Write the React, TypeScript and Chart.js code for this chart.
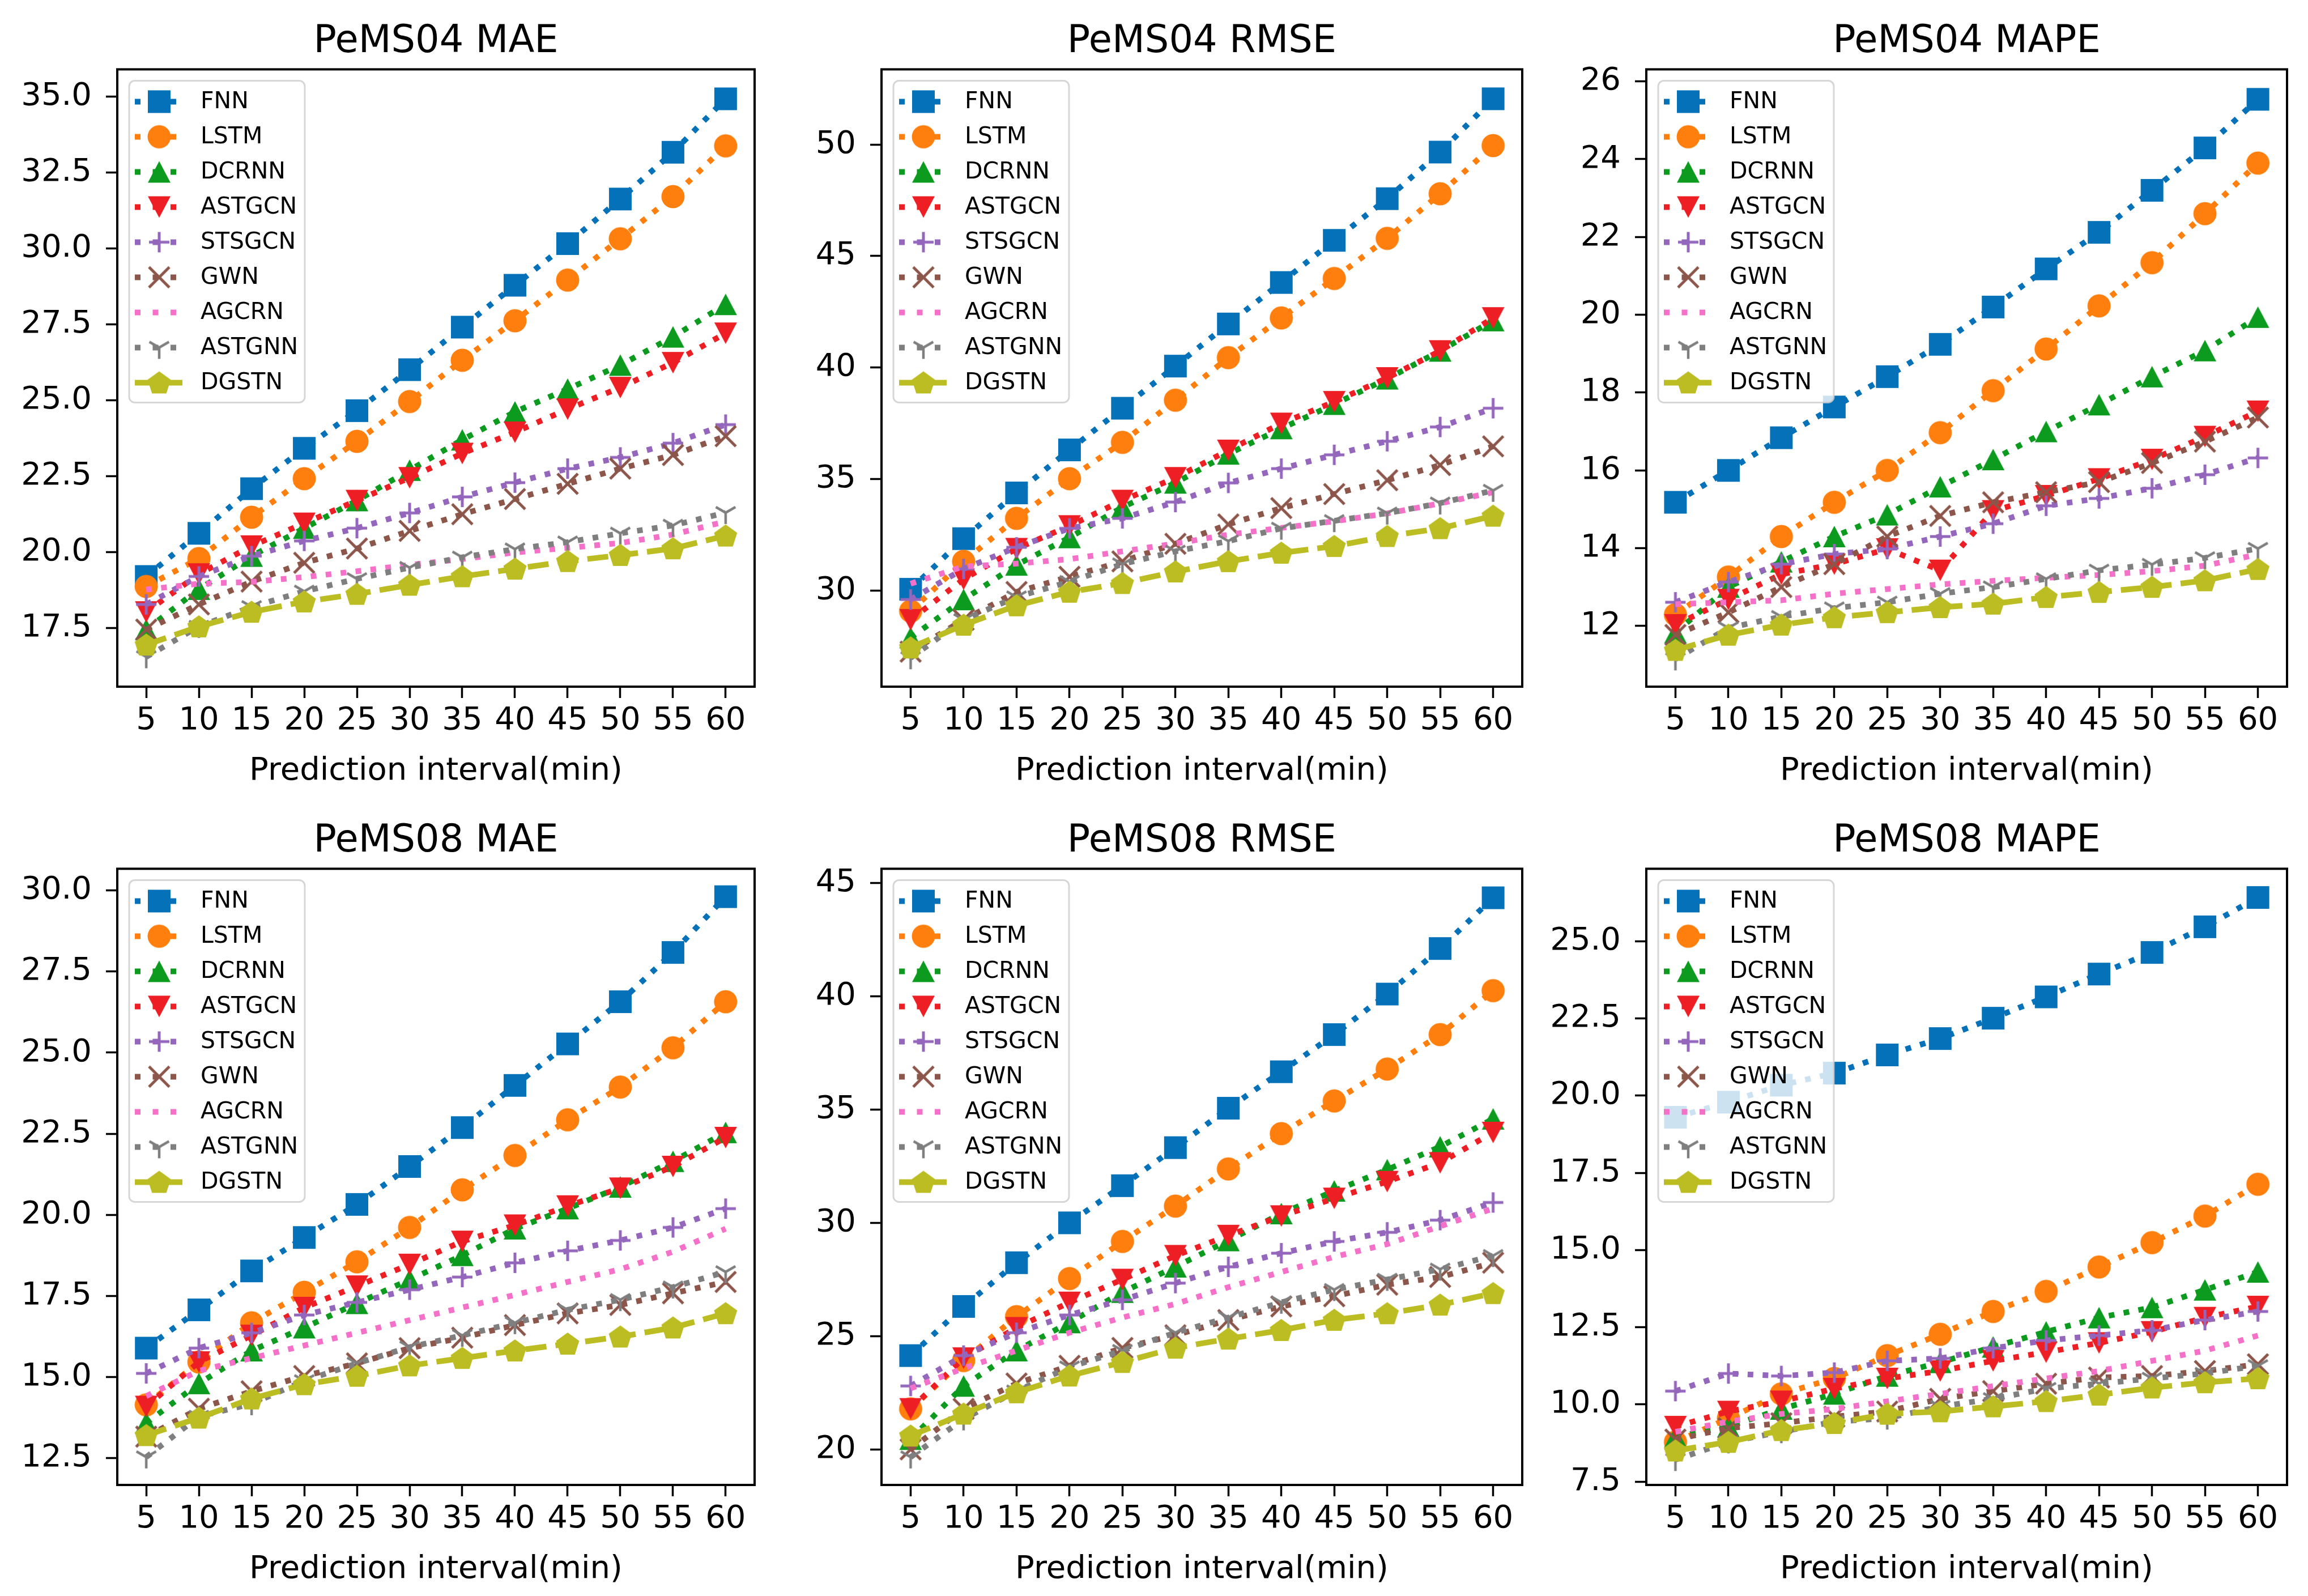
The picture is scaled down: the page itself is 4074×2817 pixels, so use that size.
import { useEffect, useRef } from "react"
import {
  Chart,
  type ChartConfiguration,
  type Plugin,
  LineController,
  LineElement,
  PointElement,
  LinearScale,
  Title,
} from "chart.js"

Chart.register(LineController, LineElement, PointElement, LinearScale, Title)
Chart.defaults.font.family = "'DejaVu Sans', sans-serif"
Chart.defaults.color = "#000"

// ---- data ----
const INTERVALS = [5, 10, 15, 20, 25, 30, 35, 40, 45, 50, 55, 60]
const MODELS = ["FNN", "LSTM", "DCRNN", "ASTGCN", "STSGCN", "GWN", "AGCRN", "ASTGNN", "DGSTN"]

// rows follow MODELS order
const PEMS04_MAE = [
  [19.2, 20.62, 22.09, 23.42, 24.66, 26.01, 27.41, 28.79, 30.16, 31.63, 33.17, 34.93],
  [18.87, 19.79, 21.15, 22.42, 23.65, 24.96, 26.32, 27.62, 28.96, 30.32, 31.71, 33.38],
  [17.45, 18.78, 19.87, 20.79, 21.7, 22.7, 23.7, 24.62, 25.37, 26.16, 27.09, 28.16],
  [18.03, 19.28, 20.2, 20.95, 21.7, 22.45, 23.25, 23.95, 24.71, 25.42, 26.24, 27.21],
  [18.28, 19.2, 19.87, 20.37, 20.79, 21.29, 21.82, 22.29, 22.75, 23.12, 23.59, 24.2],
  [17.45, 18.28, 19.03, 19.65, 20.12, 20.7, 21.25, 21.75, 22.25, 22.75, 23.2, 23.82],
  [18.77, 18.96, 19.02, 19.18, 19.37, 19.58, 19.77, 19.99, 20.14, 20.3, 20.58, 21.01],
  [16.55, 17.55, 18.2, 18.71, 19.12, 19.49, 19.83, 20.1, 20.33, 20.62, 20.88, 21.3],
  [16.95, 17.55, 18.03, 18.37, 18.62, 18.92, 19.2, 19.45, 19.7, 19.9, 20.12, 20.54],
]
const PEMS04_RMSE = [
  [30.05, 32.32, 34.37, 36.3, 38.17, 40.06, 41.95, 43.81, 45.7, 47.57, 49.66, 52.05],
  [29.07, 31.3, 33.23, 35.01, 36.64, 38.53, 40.44, 42.22, 43.99, 45.79, 47.79, 49.95],
  [27.88, 29.59, 31.14, 32.37, 33.73, 34.82, 36.12, 37.26, 38.35, 39.49, 40.74, 42.1],
  [28.68, 30.5, 31.87, 32.89, 34.03, 35.05, 36.28, 37.49, 38.46, 39.53, 40.74, 42.22],
  [29.59, 30.96, 31.93, 32.78, 33.23, 33.96, 34.82, 35.46, 36.08, 36.69, 37.33, 38.17],
  [27.25, 28.68, 29.93, 30.61, 31.3, 32.09, 32.96, 33.69, 34.32, 34.94, 35.62, 36.46],
  [30.3, 31.07, 31.2, 31.4, 31.75, 32.1, 32.5, 32.8, 33.1, 33.45, 33.9, 34.4],
  [26.97, 28.68, 29.7, 30.39, 31.18, 31.75, 32.21, 32.78, 33.12, 33.46, 33.91, 34.48],
  [27.43, 28.45, 29.32, 29.93, 30.32, 30.84, 31.3, 31.68, 31.98, 32.43, 32.78, 33.34],
]
const PEMS04_MAPE = [
  [15.18, 16.0, 16.84, 17.63, 18.41, 19.24, 20.2, 21.18, 22.12, 23.2, 24.29, 25.54],
  [12.29, 13.26, 14.3, 15.18, 16.0, 16.97, 18.05, 19.12, 20.23, 21.34, 22.6, 23.9],
  [11.83, 13.0, 13.65, 14.3, 14.86, 15.58, 16.28, 17.0, 17.69, 18.41, 19.08, 19.94],
  [12.03, 12.68, 13.33, 13.59, 13.98, 13.43, 14.96, 15.35, 15.78, 16.28, 16.87, 17.52],
  [12.61, 13.13, 13.59, 13.85, 13.98, 14.3, 14.63, 15.09, 15.28, 15.54, 15.89, 16.32],
  [11.77, 12.35, 13.0, 13.59, 14.3, 14.83, 15.18, 15.44, 15.7, 16.19, 16.74, 17.36],
  [12.56, 12.61, 12.66, 12.83, 12.95, 13.07, 13.16, 13.24, 13.31, 13.41, 13.55, 13.84],
  [11.15, 11.95, 12.24, 12.46, 12.61, 12.83, 13.0, 13.21, 13.43, 13.58, 13.75, 13.99],
  [11.38, 11.77, 12.03, 12.22, 12.35, 12.48, 12.57, 12.74, 12.87, 13.0, 13.17, 13.46],
]
const PEMS08_MAE = [
  [15.89, 17.07, 18.27, 19.3, 20.32, 21.49, 22.69, 23.99, 25.27, 26.57, 28.09, 29.81],
  [14.14, 15.46, 16.67, 17.61, 18.55, 19.61, 20.77, 21.83, 22.93, 23.94, 25.15, 26.57],
  [13.58, 14.8, 15.81, 16.52, 17.27, 18.0, 18.75, 19.57, 20.19, 20.86, 21.65, 22.54],
  [14.09, 15.46, 16.28, 17.14, 17.8, 18.47, 19.18, 19.68, 20.27, 20.82, 21.49, 22.38],
  [15.11, 15.89, 16.36, 16.91, 17.3, 17.69, 18.08, 18.52, 18.89, 19.21, 19.61, 20.19],
  [13.16, 14.02, 14.56, 15.03, 15.42, 15.89, 16.21, 16.6, 16.96, 17.22, 17.58, 17.93],
  [14.41, 15.19, 15.58, 15.97, 16.36, 16.75, 17.14, 17.53, 17.93, 18.32, 18.86, 19.57],
  [12.53, 13.78, 14.17, 14.88, 15.42, 15.92, 16.28, 16.67, 17.07, 17.38, 17.77, 18.24],
  [13.2, 13.74, 14.33, 14.77, 15.03, 15.35, 15.58, 15.81, 16.02, 16.24, 16.52, 16.96],
]
const PEMS08_RMSE = [
  [24.14, 26.31, 28.24, 30.0, 31.64, 33.32, 35.06, 36.67, 38.31, 40.1, 42.11, 44.35],
  [21.79, 23.92, 25.86, 27.54, 29.18, 30.74, 32.38, 33.94, 35.38, 36.79, 38.31, 40.25],
  [20.45, 22.8, 24.36, 25.6, 26.94, 28.06, 29.22, 30.41, 31.41, 32.35, 33.36, 34.59],
  [21.79, 24.03, 25.37, 26.49, 27.5, 28.55, 29.44, 30.3, 31.08, 31.82, 32.65, 33.99],
  [22.8, 24.14, 25.15, 25.93, 26.6, 27.34, 28.06, 28.66, 29.18, 29.58, 30.12, 30.9],
  [20.0, 21.79, 22.91, 23.69, 24.48, 25.04, 25.71, 26.31, 26.76, 27.27, 27.61, 28.24],
  [22.69, 23.58, 24.36, 25.15, 25.82, 26.42, 27.16, 27.83, 28.5, 29.06, 29.85, 30.63],
  [19.66, 21.34, 22.57, 23.63, 24.36, 25.15, 25.82, 26.49, 27.05, 27.5, 27.95, 28.55],
  [20.6, 21.57, 22.51, 23.25, 23.85, 24.48, 24.88, 25.26, 25.71, 26.0, 26.38, 26.89],
]
const PEMS08_MAPE = [
  [19.3, 19.79, 20.34, 20.73, 21.32, 21.85, 22.51, 23.2, 23.94, 24.64, 25.47, 26.42],
  [8.78, 9.55, 10.34, 10.84, 11.58, 12.27, 13.01, 13.66, 14.45, 15.24, 16.1, 17.13],
  [8.95, 9.28, 9.85, 10.34, 10.92, 11.36, 11.86, 12.35, 12.81, 13.14, 13.71, 14.29],
  [9.28, 9.77, 10.1, 10.51, 10.84, 11.08, 11.41, 11.69, 11.99, 12.35, 12.81, 13.17],
  [10.43, 11.0, 10.92, 11.03, 11.41, 11.49, 11.82, 12.07, 12.23, 12.4, 12.73, 13.01],
  [8.86, 9.23, 9.39, 9.6, 9.77, 10.18, 10.43, 10.67, 10.87, 10.92, 11.08, 11.3],
  [9.11, 9.44, 9.69, 9.85, 10.1, 10.34, 10.59, 10.84, 11.08, 11.41, 11.74, 12.23],
  [8.21, 8.78, 9.11, 9.44, 9.55, 9.93, 10.18, 10.51, 10.67, 10.84, 11.0, 11.25],
  [8.5, 8.78, 9.16, 9.39, 9.69, 9.77, 9.93, 10.1, 10.31, 10.54, 10.71, 10.84],
]

const PEMS04_MAE_TICKS = [17.5, 20, 22.5, 25, 27.5, 30, 32.5, 35]
const PEMS04_RMSE_TICKS = [30, 35, 40, 45, 50]
const PEMS04_MAPE_TICKS = [12, 14, 16, 18, 20, 22, 24, 26]
const PEMS08_MAE_TICKS = [12.5, 15, 17.5, 20, 22.5, 25, 27.5, 30]
const PEMS08_RMSE_TICKS = [20, 25, 30, 35, 40, 45]
const PEMS08_MAPE_TICKS = [7.5, 10, 12.5, 15, 17.5, 20, 22.5, 25]

// ---- styles ----
const COLORS = ["#0571b9", "#ff7f0e", "#0c9b1f", "#ee1f24", "#9467bd", "#8c564b", "#f570c8", "#7f7f7f", "#bcbd22"]
const MARKERS = ["square", "circle", "triUp", "triDown", "plus", "x", "none", "tri1", "pentagon"]
const DOT = [10, 16.5]
const DASH = [37, 16]
const LINE_DASHES = [DOT, DOT, DOT, DOT, DOT, DOT, DOT, DOT, DASH]
// legend samples: three dots for dotted lines, matplotlib style
const LEGEND_DOT = [10, 21.5]

// plot boxes on the page (left, top, right, bottom)
const BOXES = [
  [207, 122, 1332, 1212],
  [1556, 122, 2687, 1212],
  [2906, 122, 4037, 1212],
  [207, 1533, 1332, 2621],
  [1556, 1533, 2687, 2621],
  [2906, 1533, 4037, 2621],
]

const PANELS = [
  { title: "PeMS04 MAE", values: PEMS04_MAE, ticks: PEMS04_MAE_TICKS, yMin: 15.57, yMax: 35.9, decimals: 1 },
  { title: "PeMS04 RMSE", values: PEMS04_RMSE, ticks: PEMS04_RMSE_TICKS, yMin: 25.68, yMax: 53.37, decimals: 0 },
  { title: "PeMS04 MAPE", values: PEMS04_MAPE, ticks: PEMS04_MAPE_TICKS, yMin: 10.44, yMax: 26.31, decimals: 0 },
  { title: "PeMS08 MAE", values: PEMS08_MAE, ticks: PEMS08_MAE_TICKS, yMin: 11.67, yMax: 30.67, decimals: 1 },
  { title: "PeMS08 RMSE", values: PEMS08_RMSE, ticks: PEMS08_RMSE_TICKS, yMin: 18.43, yMax: 45.63, decimals: 0 },
  { title: "PeMS08 MAPE", values: PEMS08_MAPE, ticks: PEMS08_MAPE_TICKS, yMin: 7.39, yMax: 27.35, decimals: 1 },
]

const Y_AXIS_W = 200
const RIGHT_PAD = 20
const TITLE_BLOCK = 67 * 1.2 + 4 + 8
const X_AXIS_H = 183
const BOTTOM_PAD = 10

const markerCache: Record<string, HTMLCanvasElement> = {}

function makeMarker(kind: string, color: string): HTMLCanvasElement {
  const key = kind + color
  if (markerCache[key]) return markerCache[key]
  const s = 52
  const m = s / 2
  const c = document.createElement("canvas")
  c.width = s
  c.height = s
  const g = c.getContext("2d")!
  g.fillStyle = color
  g.strokeStyle = color
  g.beginPath()
  if (kind === "square") {
    g.rect(m - 20, m - 20, 40, 40)
    g.fill()
  } else if (kind === "circle") {
    g.arc(m, m, 20.5, 0, Math.PI * 2)
    g.fill()
  } else if (kind === "triUp") {
    g.moveTo(m, m - 19)
    g.lineTo(m + 20, m + 19)
    g.lineTo(m - 20, m + 19)
    g.closePath()
    g.fill()
  } else if (kind === "triDown") {
    g.moveTo(m, m + 19)
    g.lineTo(m + 20, m - 19)
    g.lineTo(m - 20, m - 19)
    g.closePath()
    g.fill()
  } else if (kind === "plus") {
    g.lineWidth = 5
    g.moveTo(m - 18, m)
    g.lineTo(m + 18, m)
    g.moveTo(m, m - 18)
    g.lineTo(m, m + 18)
    g.stroke()
  } else if (kind === "x") {
    g.lineWidth = 5
    g.moveTo(m - 18, m - 18)
    g.lineTo(m + 18, m + 18)
    g.moveTo(m + 18, m - 18)
    g.lineTo(m - 18, m + 18)
    g.stroke()
  } else if (kind === "tri1") {
    const r = 20
    g.lineWidth = 4.5
    g.moveTo(m, m)
    g.lineTo(m, m + r)
    g.moveTo(m, m)
    g.lineTo(m - r * Math.cos(Math.PI / 6), m - r * Math.sin(Math.PI / 6))
    g.moveTo(m, m)
    g.lineTo(m + r * Math.cos(Math.PI / 6), m - r * Math.sin(Math.PI / 6))
    g.stroke()
  } else if (kind === "pentagon") {
    const R = 21.5
    for (let k = 0; k < 5; k++) {
      const a = -Math.PI / 2 + (k * 2 * Math.PI) / 5
      const px = m + R * Math.cos(a)
      const py = m + 1.5 + R * Math.sin(a)
      if (k === 0) g.moveTo(px, py)
      else g.lineTo(px, py)
    }
    g.closePath()
    g.fill()
  }
  markerCache[key] = c
  return c
}

// frame around the axes, then a matplotlib-like legend box on top
const frameAndLegend: Plugin<"line"> = {
  id: "frameAndLegend",
  afterDatasetsDraw(chart) {
    const { ctx, chartArea } = chart
    ctx.save()
    ctx.strokeStyle = "#000"
    ctx.lineWidth = 4
    ctx.strokeRect(chartArea.left, chartArea.top, chartArea.right - chartArea.left, chartArea.bottom - chartArea.top)

    const x0 = chartArea.left + 21
    const y0 = chartArea.top + 20
    const w = 310
    const h = 568
    const r = 10
    ctx.beginPath()
    ctx.moveTo(x0 + r, y0)
    ctx.arcTo(x0 + w, y0, x0 + w, y0 + h, r)
    ctx.arcTo(x0 + w, y0 + h, x0, y0 + h, r)
    ctx.arcTo(x0, y0 + h, x0, y0, r)
    ctx.arcTo(x0, y0, x0 + w, y0, r)
    ctx.closePath()
    ctx.fillStyle = "rgba(255,255,255,0.8)"
    ctx.fill()
    ctx.strokeStyle = "rgba(204,204,204,0.8)"
    ctx.lineWidth = 3
    ctx.stroke()

    ctx.font = "41px 'DejaVu Sans', sans-serif"
    ctx.textBaseline = "middle"
    ctx.textAlign = "left"
    MODELS.forEach((name, i) => {
      const cy = y0 + 37 + i * 62
      const dashed = LINE_DASHES[i] === DASH
      ctx.beginPath()
      ctx.setLineDash(dashed ? DASH : LEGEND_DOT)
      ctx.lineCap = "butt"
      ctx.strokeStyle = COLORS[i]
      ctx.lineWidth = 10
      ctx.moveTo(x0 + 10, cy)
      ctx.lineTo(x0 + (dashed ? 94 : 83), cy)
      ctx.stroke()
      ctx.setLineDash([])
      if (MARKERS[i] !== "none") {
        const img = makeMarker(MARKERS[i], COLORS[i])
        ctx.drawImage(img, x0 + 53 - img.width / 2, cy - img.height / 2)
      }
      ctx.fillStyle = "#000"
      ctx.fillText(name, x0 + 126, cy + 1)
    })
    ctx.restore()
  },
}

type PanelSpec = (typeof PANELS)[number]

function Panel({ spec, box }: { spec: PanelSpec; box: number[] }) {
  const chartRef = useRef<HTMLCanvasElement>(null)
  const [bl, bt, br, bb] = box
  const left = bl - Y_AXIS_W
  const top = bt - TITLE_BLOCK
  const width = br - bl + Y_AXIS_W + RIGHT_PAD
  const height = TITLE_BLOCK + (bb - bt) + X_AXIS_H + BOTTOM_PAD

  useEffect(() => {
    if (!chartRef.current) return
    const ctx = chartRef.current.getContext("2d")
    if (!ctx) return

    const datasets = MODELS.map((name, i) => {
      const marker = MARKERS[i] === "none" ? false : makeMarker(MARKERS[i], COLORS[i])
      return {
        label: name,
        data: INTERVALS.map((x, j) => ({ x, y: spec.values[i][j] })),
        borderColor: COLORS[i],
        backgroundColor: COLORS[i],
        borderWidth: 10,
        borderDash: LINE_DASHES[i],
        borderCapStyle: "butt" as const,
        pointStyle: marker,
        pointRadius: marker ? 20 : 0,
        pointHoverRadius: marker ? 20 : 0,
        tension: 0,
        order: MODELS.length - i,
      }
    })

    const config: ChartConfiguration<"line"> = {
      type: "line",
      data: { datasets: datasets as any },
      options: {
        responsive: false,
        animation: false,
        devicePixelRatio: 1,
        events: [],
        layout: { autoPadding: false, padding: { left: 0, top: 0, right: RIGHT_PAD, bottom: BOTTOM_PAD } },
        plugins: {
          legend: { display: false },
          tooltip: { enabled: false },
          title: {
            display: true,
            text: spec.title,
            fullSize: false,
            color: "#000",
            font: { size: 67, weight: "normal", lineHeight: 1.2 },
            padding: { top: 4, bottom: 8 },
          },
        },
        scales: {
          x: {
            type: "linear",
            min: 2.25,
            max: 62.75,
            afterBuildTicks: (axis) => {
              axis.ticks = INTERVALS.map((v) => ({ value: v }))
            },
            afterFit: (axis) => {
              axis.height = X_AXIS_H
            },
            grid: { display: true, drawOnChartArea: false, drawTicks: true, tickLength: 20, tickWidth: 3.5, tickColor: "#000" },
            border: { display: false },
            ticks: { autoSkip: false, maxRotation: 0, padding: 7, color: "#000", font: { size: 56 }, callback: (v) => String(v) },
            title: { display: true, text: "Prediction interval(min)", color: "#000", font: { size: 56 }, padding: 0 },
          },
          y: {
            type: "linear",
            min: spec.yMin,
            max: spec.yMax,
            afterBuildTicks: (axis) => {
              axis.ticks = spec.ticks.map((v) => ({ value: v }))
            },
            afterFit: (axis) => {
              axis.width = Y_AXIS_W
            },
            grid: { display: true, drawOnChartArea: false, drawTicks: true, tickLength: 20, tickWidth: 3.5, tickColor: "#000" },
            border: { display: false },
            ticks: {
              autoSkip: false,
              padding: 25,
              color: "#000",
              font: { size: 56 },
              callback: (v) => Number(v).toFixed(spec.decimals),
            },
          },
        },
      },
      plugins: [frameAndLegend],
    }

    const chart = new Chart(ctx, config)
    return () => {
      chart.destroy()
    }
  }, [spec])

  return (
    <canvas
      ref={chartRef}
      width={Math.round(width)}
      height={Math.round(height)}
      style={{ position: "absolute", left, top, width: Math.round(width), height: Math.round(height) }}
    />
  )
}

export default function App() {
  return (
    <div style={{ position: "absolute", left: 0, top: 0, width: 4074, height: 2817, background: "#fff", overflow: "hidden" }}>
      {PANELS.map((p, i) => (
        <Panel key={p.title} spec={p} box={BOXES[i]} />
      ))}
    </div>
  )
}
